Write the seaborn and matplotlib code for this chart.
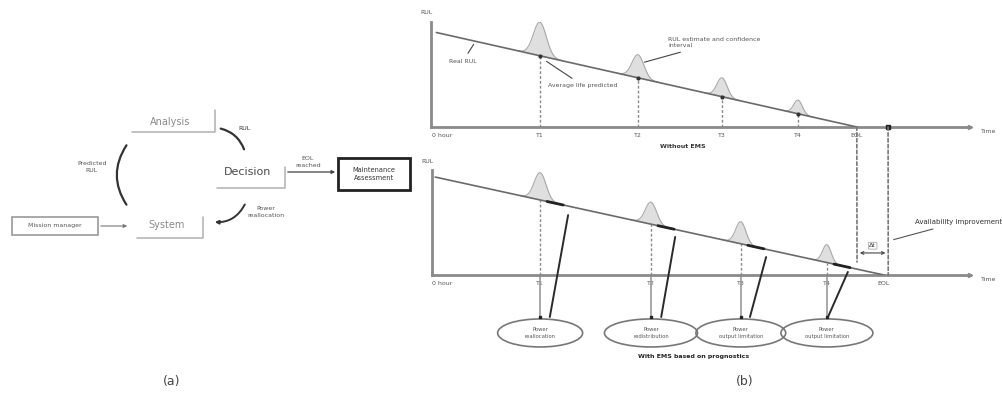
import numpy as np
import matplotlib
matplotlib.use("Agg")
import matplotlib.pyplot as plt
import seaborn as sns
from matplotlib.patches import Ellipse, Rectangle, ConnectionPatch

sns.set_theme(style="white")
plt.rcParams['font.family'] = ['DejaVu Sans']

# ---------- panel (b): time axis 0-100, RUL axis 0-100 ----------
tick_labels = ["0 hour", "T1", "T2", "T3", "T4", "EOL"]
top_ticks = [2.0, 20.2, 38.4, 54.0, 68.1, 79.0]
bot_ticks = [1.9, 20.1, 40.7, 57.4, 73.4, 84.0]

top_rul_t = [1.0, 79.0]
top_rul_v = [90.0, 0.0]
bot_rul_t = [0.6, 84.0]
bot_rul_v = [93.3, 0.0]

top_peak = [32, 22, 18, 13]
top_sigma = [1.2, 1.1, 0.95, 0.8]
bot_peak = [26, 21, 21, 17]
bot_sigma = [1.1, 1.05, 0.95, 0.8]

slant_bot_t = [21.9, 42.6, 59.1, 73.6]
slant_top_t = [25.3, 45.2, 62.1, 77.3]
slant_top_v = [57.0, 36.2, 17.1, 2.9]

ellipse_text = ["Power\nreallocation", "Power\nredistribution",
                "Power\noutput limitation", "Power\noutput limitation"]
ellipse_w = [15.8, 17.3, 16.7, 17.1]

avail_t = [79.0, 84.8]

# ---------- panel (a): flow diagram nodes (pixel layout) ----------
node_names = ["Analysis", "Decision", "System"]
node_x = [170, 248, 167]
node_y = [122, 172, 225]

LINE = "#6a6a6a"
AXC = "#8a8a8a"
TXT = "#555555"


def rul_at(t, ts, vs):
    return np.interp(t, ts, vs)


def style_axes(ax, ticks, ylab_y):
    ax.set_xlim(0, 100)
    ax.set_ylim(0, 100)
    for s in ["top", "right"]:
        ax.spines[s].set_visible(False)
    for s in ["left", "bottom"]:
        ax.spines[s].set_color(AXC)
        ax.spines[s].set_linewidth(2)
    ax.set_xticks(ticks)
    ax.set_xticklabels(tick_labels, fontsize=4.5, color=TXT)
    ax.tick_params(axis="x", length=0, pad=4)
    ax.set_yticks([])
    ax.set_xlabel("")
    ax.set_ylabel("")
    ax.patch.set_alpha(0)
    ax.text(-0.8, ylab_y, "RUL", fontsize=4.5, color=TXT, ha="center", clip_on=False)
    ax.text(102, -6, "Time", fontsize=4.5, color=TXT, ha="left", clip_on=False)
    ax.plot(100, 0, ">", color=AXC, ms=3, clip_on=False)


def bumps(ax, ticks, peaks, sigmas, ts, vs):
    for t, h, s in zip(ticks, peaks, sigmas):
        x = np.linspace(t - 3.5 * s, t + 3.5 * s, 80)
        base = rul_at(x, ts, vs)
        y = base + h * np.exp(-0.5 * ((x - t) / s) ** 2)
        ax.fill_between(x, base, y, color="#dcdcdc", alpha=0.9, lw=0, zorder=2)
        ax.plot(x, y, color="#a8a8a8", lw=0.8, zorder=3)


fig = plt.figure(figsize=(10.03, 4.03), dpi=100)
fig.patch.set_facecolor("white")

# ----- top panel: without EMS -----
ax_top = fig.add_axes([0.4297, 0.6849, 0.5374, 0.2605])
sns.lineplot(x=top_rul_t, y=top_rul_v, ax=ax_top, color=LINE, lw=1.2, zorder=4)
style_axes(ax_top, top_ticks, 108)
bumps(ax_top, top_ticks[1:5], top_peak, top_sigma, top_rul_t, top_rul_v)
for t in top_ticks[1:5]:
    v = rul_at(t, top_rul_t, top_rul_v)
    ax_top.vlines(t, 0, v, colors=AXC, linestyles=(0, (2, 1.5)), lw=1)
    ax_top.plot(t, v, "o", color="#333333", ms=2, zorder=5)
ax_top.annotate("Real RUL", xy=(8.2, 81), xytext=(5.9, 61), fontsize=4.5, color=TXT,
                ha="center", arrowprops=dict(arrowstyle="-", color="#444444", lw=0.8))
ax_top.annotate("Average life predicted", xy=(21, 64), xytext=(28.2, 38), fontsize=4.5,
                color=TXT, ha="center",
                arrowprops=dict(arrowstyle="-", color="#444444", lw=0.8))
ax_top.annotate("RUL estimate and confidence\ninterval", xy=(39.1, 61), xytext=(44, 76),
                fontsize=4.5, color=TXT, ha="left",
                arrowprops=dict(arrowstyle="-", color="#444444", lw=0.8))
ax_top.text(46.8, -20, "Without EMS", fontsize=4.5, color="#333333", ha="center",
            weight="bold", clip_on=False)
ax_top.plot(avail_t[1], 0, "s", color="#222222", ms=2.5, clip_on=False, zorder=5)

# ----- bottom panel: with EMS -----
ax_bot = fig.add_axes([0.4307, 0.3176, 0.5364, 0.2605])
sns.lineplot(x=bot_rul_t, y=bot_rul_v, ax=ax_bot, color=LINE, lw=1.2, zorder=4)
style_axes(ax_bot, bot_ticks, 106.7)
bumps(ax_bot, bot_ticks[1:5], bot_peak, bot_sigma, bot_rul_t, bot_rul_v)
for i, t in enumerate(bot_ticks[1:5]):
    v = rul_at(t, bot_rul_t, bot_rul_v)
    ax_bot.vlines(t, 0, v, colors=AXC, linestyles=(0, (2, 1.5)), lw=1)
    ax_bot.vlines(t, -40, 0, colors="#9a9a9a", lw=1.2, clip_on=False)
    ax_bot.plot(t, -40, "s", color="#222222", ms=2, clip_on=False, zorder=6)
    seg = np.array([t + 1.3, t + 4.3])
    ax_bot.plot(seg, rul_at(seg, bot_rul_t, bot_rul_v), color="#222222", lw=2, zorder=5)
    ax_bot.plot([slant_bot_t[i], slant_top_t[i]], [-40, slant_top_v[i]], color="#2a2a2a",
                lw=1.4, clip_on=False, zorder=6)
    ax_bot.add_patch(Ellipse((t, -55.2), ellipse_w[i], 26.7, fill=False, ec="#777777",
                             lw=1.2, clip_on=False))
    ax_bot.text(t, -55.2, ellipse_text[i], fontsize=3.8, color=TXT, ha="center",
                va="center", linespacing=1.6, clip_on=False)
ax_bot.text(48.7, -79, "With EMS based on prognostics", fontsize=4.5, color="#222222",
            ha="center", weight="bold", clip_on=False)

# availability improvement
for t, vb in zip(avail_t, [12.4, 0]):
    con = ConnectionPatch(xyA=(t, 0), coordsA=ax_top.transData, xyB=(t, vb),
                          coordsB=ax_bot.transData, color="#777777", lw=1.2,
                          linestyle=(0, (2, 1.5)))
    fig.add_artist(con)
ax_bot.annotate("", xy=(avail_t[0], 21), xytext=(avail_t[1], 21),
                arrowprops=dict(arrowstyle="<->", color="#444444", lw=0.8, mutation_scale=5))
ax_bot.text(81.9, 26.5, "Δt", fontsize=4.5, color="#333333", ha="center",
            bbox=dict(boxstyle="round,pad=0.15", fc="white", ec="#999999", lw=0.5))
ax_bot.annotate("Availability improvement", xy=(85.3, 33), xytext=(89.8, 50.5),
                fontsize=5, color="#333333", ha="left", va="center",
                arrowprops=dict(arrowstyle="-", color="#555555", lw=0.8), clip_on=False,
                annotation_clip=False)

# ----- panel (a): overlay axes in pixel units -----
ax_a = fig.add_axes([0, 0, 1, 1])
ax_a.set_xlim(0, 1003)
ax_a.set_ylim(403, 0)
ax_a.axis("off")
ax_a.patch.set_alpha(0)

sizes = [7, 8, 7]
colors = ["#8a8a8a", "#4a4a4a", "#8a8a8a"]
for name, x, y, fs, c in zip(node_names, node_x, node_y, sizes, colors):
    ax_a.text(x, y, name, fontsize=fs, color=c, ha="center", va="center")

bracket = dict(color="#b0b0b0", lw=1.1)
ax_a.plot([132, 215, 215], [132, 132, 110], **bracket)
ax_a.plot([217, 285, 285], [188, 188, 167], **bracket)
ax_a.plot([137, 203, 203], [238, 238, 217], **bracket)

ax_a.add_patch(Rectangle((12, 217), 86, 18, fill=False, ec="#999999", lw=1.2))
ax_a.text(55, 226, "Mission manager", fontsize=4.5, color=TXT, ha="center", va="center")
ax_a.annotate("", xy=(130, 226), xytext=(98, 226),
              arrowprops=dict(arrowstyle="-|>", color="#777777", lw=0.8, mutation_scale=5))

arc = dict(arrowstyle="-", color="#333333", lw=1.6)
ax_a.annotate("", xy=(245, 152), xytext=(218, 128),
              arrowprops=dict(connectionstyle="arc3,rad=-0.3", **arc))
ax_a.text(245, 129, "RUL", fontsize=4.5, color="#333333", ha="center", va="center")
ax_a.annotate("", xy=(128, 207), xytext=(128, 143),
              arrowprops=dict(connectionstyle="arc3,rad=0.35", **arc))
ax_a.text(92, 167, "Predicted\nRUL", fontsize=4.5, color=TXT, ha="center", va="center",
          linespacing=1.6)
ax_a.annotate("", xy=(212, 222), xytext=(246, 202),
              arrowprops=dict(arrowstyle="-|>", color="#333333", lw=1.4, mutation_scale=5,
                              connectionstyle="arc3,rad=-0.35"))
ax_a.text(266, 212, "Power\nreallocation", fontsize=4.5, color=TXT, ha="center",
          va="center", linespacing=1.6)

ax_a.annotate("", xy=(338, 172), xytext=(285, 172),
              arrowprops=dict(arrowstyle="-|>", color="#444444", lw=0.9, mutation_scale=5))
ax_a.text(308, 162, "EOL\nreached", fontsize=4.5, color=TXT, ha="center", va="center",
          linespacing=1.5)
ax_a.add_patch(Rectangle((338, 158), 72, 32, fill=False, ec="#222222", lw=2))
ax_a.text(374, 174, "Maintenance\nAssessment", fontsize=4.8, color="#333333", ha="center",
          va="center", linespacing=1.5)

ax_a.text(172, 381, "(a)", fontsize=9, color="#444444", ha="center", va="center")
ax_a.text(745, 381, "(b)", fontsize=9, color="#444444", ha="center", va="center")

fig.savefig("out.png", dpi=100, facecolor="white")
